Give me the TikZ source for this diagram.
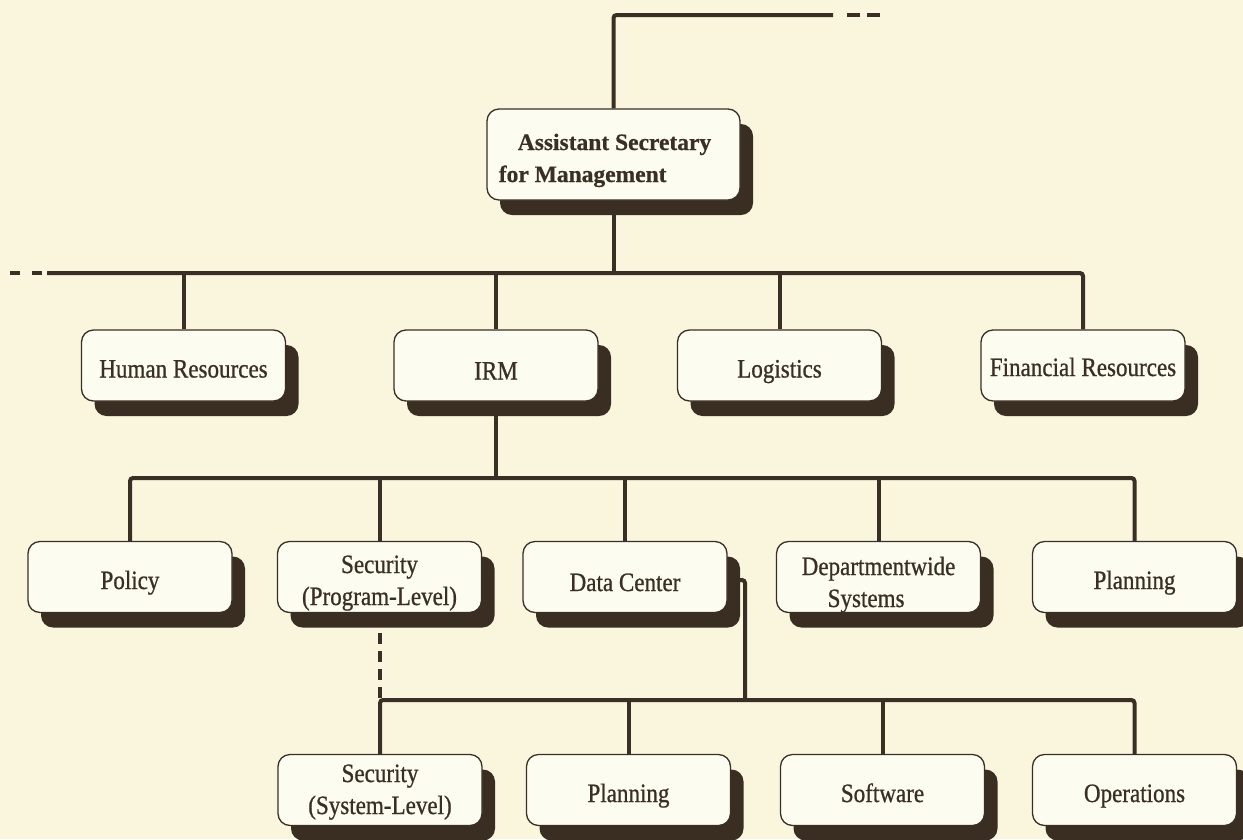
\documentclass[tikz,border=0pt]{standalone}
\usepackage{fontspec}
\setmainfont{Liberation Serif}
\newfontfamily\boxfont{Liberation Serif}[FakeStretch=0.87,FakeBold=0.8]
\newfontfamily\headfont{Liberation Serif Bold}[FakeBold=0.6]
\newcommand{\twolines}[3]{\begin{tabular}[t]{@{}#1@{}}#2\\#3\end{tabular}}
\usetikzlibrary{shadows}
\definecolor{bgc}{RGB}{249,246,221}
\definecolor{boxc}{RGB}{253,252,240}
\definecolor{inkc}{RGB}{58,47,37}
\definecolor{shadowc}{RGB}{58,46,35}
\pgfdeclarelayer{bglayer}
\pgfdeclarelayer{linelayer}
\pgfsetlayers{bglayer,linelayer,main}
\begin{document}
\begin{tikzpicture}[x=1pt,y=-1pt,
  orgbox/.style={draw=inkc, line width=1.3pt, fill=boxc, rounded corners=12pt,
    minimum width=204pt, minimum height=71pt, inner sep=0pt,
    font=\boxfont\fontsize{26.5}{32}\selectfont, text=inkc,
    text height=26pt, text depth=2pt,
    drop shadow={shadow xshift=13pt, shadow yshift=-15pt, fill=shadowc, opacity=1}},
  conn/.style={draw=inkc, line width=4pt, rounded corners=3pt},
  dashconn/.style={draw=inkc, line width=4pt, dash pattern=on 11pt off 7pt}]
\useasboundingbox (0,0) rectangle (1243,839);
\begin{pgfonlayer}{bglayer}
  \fill[bgc] (0,0) rectangle (1243,839);
\end{pgfonlayer}

% top
\node[orgbox, minimum width=253pt, minimum height=91pt,
  text height=10pt, text depth=19pt,
  font=\headfont\fontsize{23.5}{32}\selectfont] (asm) at (613.5,154.5)
  {\twolines{l}{\hspace*{19pt}Assistant Secretary}{for Management}\hspace*{17pt}};

% level 2
\node[orgbox] (hr)  at (183.5,365.5) {Human Resources};
\node[orgbox, text height=28pt, text depth=0pt] (irm) at (496,365.5) {IRM};
\node[orgbox] (log) at (779.5,365.5) {Logistics};
\node[orgbox, text height=24pt, text depth=3pt] (fin) at (1083,365.5) {Financial Resources};

% level 3
\node[orgbox] (pol)  at (130,577) {Policy};
\node[orgbox, text height=10pt, text depth=18pt] (secp) at (379.5,577)
  {\twolines{c}{Security}{(Program-Level)}};
\node[orgbox, text height=28pt, text depth=0pt] (dc) at (625,577) {Data Center};
\node[orgbox, text height=14pt, text depth=18pt] (dept) at (878.5,577)
  {\twolines{l}{Departmentwide}{\hspace*{26pt}Systems}};
\node[orgbox] (plan) at (1134.5,577) {Planning};

% level 4
\node[orgbox, text height=8pt, text depth=24pt] (secs) at (380,790)
  {\twolines{c}{Security}{(System-Level)}};
\node[orgbox] (plan2) at (628.5,790) {Planning};
\node[orgbox] (soft)  at (882.5,790) {Software};
\node[orgbox] (ops)   at (1134.5,790) {Operations};

\coordinate (tr) at (833,15);
\coordinate (trd) at (880,15);
\coordinate (b2d) at (10,273);
\coordinate (b2l) at (47,273);
\coordinate (b3) at (496,478);
\coordinate (b4) at (745,700);

\begin{pgfonlayer}{linelayer}
  % top
  \draw[conn] (asm.north) |- (tr);
  \draw[dashconn, dash pattern=on 13pt off 7pt] ([xshift=14pt]tr) -- (trd);
  % level 2 bus
  \draw[dashconn, dash pattern=on 10pt off 12pt] (b2d) -- ([xshift=-5pt]b2l);
  \draw[conn] (b2l) -- (fin.north |- b2l) -- (fin.north);
  \draw[conn] (asm.south) -- (asm.south |- b2l);
  \foreach \n in {hr,irm,log} \draw[conn] (\n.north) -- (\n.north |- b2l);
  % level 3 bus
  \draw[conn] (irm.south) -- (b3);
  \draw[conn] (pol.north) -- (pol.north |- b3) -- (plan.north |- b3) -- (plan.north);
  \foreach \n in {secp,dc,dept} \draw[conn] (\n.north) -- (\n.north |- b3);
  % level 4
  \draw[conn] ([yshift=-3pt]dc.east) -| (b4);
  \draw[conn] (secs.north) -- (secs.north |- b4) -- (ops.north |- b4) -- (ops.north);
  \foreach \n in {plan2,soft} \draw[conn] (\n.north) -- (\n.north |- b4);
  \draw[dashconn] ([yshift=-20pt]secp.south) -- (secp.south |- b4);
\end{pgfonlayer}
\end{tikzpicture}
\end{document}
